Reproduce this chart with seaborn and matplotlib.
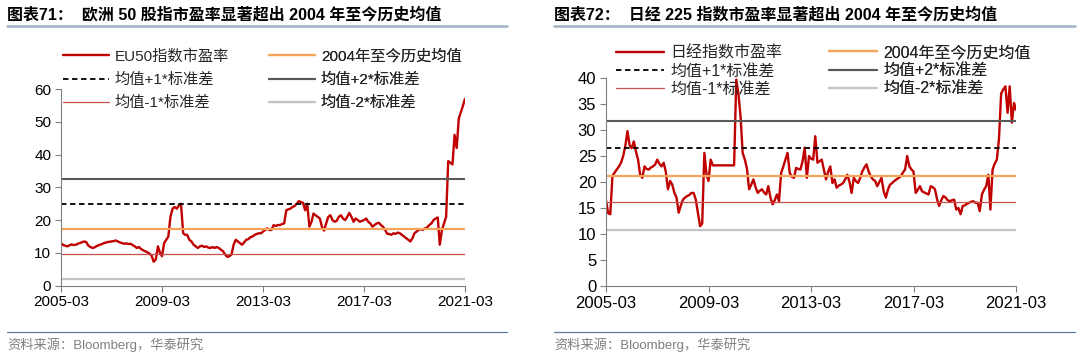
import pandas as pd
import matplotlib
matplotlib.use("Agg")
import matplotlib.pyplot as plt
import matplotlib.dates as mdates
from matplotlib.lines import Line2D
import seaborn as sns

sns.set_style("ticks")
FONTS = ["Liberation Sans", "Noto Sans CJK SC", "DejaVu Sans"]
plt.rcParams["font.family"] = FONTS
plt.rcParams["axes.unicode_minus"] = False

# monthly, 2005-03 .. 2021-03
months = pd.date_range("2005-03-01", "2021-03-01", freq="MS")

eu50_pe = [
    13.0, 12.4, 12.2, 12.0, 12.3, 12.6, 12.4, 12.5, 12.8, 13.0, 13.3, 13.5,  # 2005-03
    13.3, 12.2, 11.8, 11.5, 11.7, 12.1, 12.4, 12.6, 12.9, 13.1, 13.3, 13.4,  # 2006-03
    13.5, 13.6, 13.8, 13.5, 13.2, 13.0, 12.8, 12.9, 12.7, 12.8, 12.4, 12.0,  # 2007-03
    11.5, 11.8, 11.2, 10.8, 10.5, 10.2, 9.8, 9.2, 7.3, 8.0, 12.0, 10.0,      # 2008-03
    9.0, 13.0, 14.0, 15.0, 21.0, 23.5, 24.0, 23.5, 24.5, 25.0, 16.0, 15.5,   # 2009-03
    15.5, 14.0, 13.5, 12.5, 12.0, 11.5, 12.0, 12.2, 11.8, 12.0, 11.6, 11.5,  # 2010-03
    11.8, 11.5, 11.8, 11.5, 11.0, 10.5, 9.5, 8.8, 9.0, 9.5, 12.5, 14.0,      # 2011-03
    13.5, 13.0, 12.5, 13.2, 14.0, 14.2, 14.8, 15.0, 15.5, 15.8, 16.0, 16.0,  # 2012-03
    16.5, 17.0, 17.5, 17.0, 17.0, 18.5, 18.2, 18.5, 18.5, 18.8, 19.0, 23.0,  # 2013-03
    23.3, 23.5, 24.0, 24.3, 25.0, 25.8, 25.5, 25.3, 23.0, 25.0, 18.0, 19.5,  # 2014-03
    22.0, 21.5, 21.0, 20.5, 18.0, 16.8, 19.0, 21.0, 21.5, 20.0, 19.5, 19.8,  # 2015-03
    21.0, 21.5, 20.5, 20.0, 21.0, 22.2, 21.0, 19.5, 20.5, 20.0, 19.5, 19.8,  # 2016-03
    20.0, 20.5, 19.5, 19.0, 18.0, 18.5, 19.0, 19.2, 18.5, 18.0, 17.0, 15.8,  # 2017-03
    15.8, 15.5, 16.0, 15.8, 16.2, 16.0, 15.5, 15.0, 14.5, 14.0, 13.5, 14.5,  # 2018-03
    16.0, 16.5, 17.0, 17.3, 17.0, 17.5, 17.8, 18.5, 19.0, 20.0, 20.5, 20.8,  # 2019-03
    12.5, 17.0, 19.0, 21.0, 38.0, 37.5, 37.0, 46.0, 42.0, 51.0, 53.0, 55.0,  # 2020-03
    57.0,                                                                    # 2021-03
]

nikkei_pe = [
    16.5, 14.0, 13.8, 21.2, 21.8, 22.4, 23.0, 23.7, 25.0, 26.9, 29.8, 27.0,  # 2005-03
    26.5, 27.8, 25.9, 24.3, 21.4, 20.8, 23.0, 22.5, 22.4, 22.8, 23.0, 23.4,  # 2006-03
    24.3, 23.5, 23.0, 23.7, 22.0, 18.6, 20.2, 19.5, 17.9, 17.0, 14.1, 15.5,  # 2007-03
    16.6, 17.0, 17.3, 17.5, 17.9, 17.9, 16.6, 14.1, 11.5, 12.0, 25.6, 21.4,  # 2008-03
    20.2, 24.3, 23.2, 23.2, 23.2, 23.2, 23.2, 23.2, 23.2, 23.2, 23.2, 23.2,  # 2009-03
    23.2, 39.7, 37.0, 32.6, 25.6, 24.3, 22.5, 18.6, 19.5, 20.5, 19.0, 17.9,  # 2010-03
    18.3, 18.6, 18.0, 17.6, 19.2, 17.0, 15.7, 16.5, 17.6, 16.3, 21.8, 23.0,  # 2011-03
    24.3, 25.6, 21.8, 21.0, 20.8, 22.7, 22.5, 22.4, 24.0, 26.6, 20.8, 25.0,  # 2012-03
    24.5, 24.3, 28.8, 23.7, 24.0, 24.3, 22.4, 20.5, 22.0, 23.0, 19.8, 20.5,  # 2013-03
    18.9, 19.3, 19.5, 19.8, 20.5, 21.4, 20.0, 17.9, 20.8, 20.2, 19.8, 20.8,  # 2014-03
    22.0, 22.8, 23.4, 22.0, 21.1, 20.5, 20.2, 19.2, 20.0, 20.8, 18.2, 17.0,  # 2015-03
    18.5, 19.5, 19.8, 20.2, 20.5, 20.8, 21.1, 21.8, 22.4, 25.0, 23.0, 22.4,  # 2016-03
    22.0, 17.9, 18.5, 19.2, 18.2, 18.0, 17.8, 17.6, 19.2, 19.0, 18.6, 16.6,  # 2017-03
    15.4, 16.5, 17.3, 17.0, 16.5, 16.3, 16.5, 16.6, 14.7, 15.0, 13.8, 15.4,  # 2018-03
    15.5, 15.8, 16.0, 16.2, 16.3, 16.0, 16.0, 14.4, 17.6, 18.5, 19.2, 21.4,  # 2019-03
    14.7, 22.4, 23.5, 24.3, 28.2, 37.0, 37.8, 38.4, 33.3, 38.4, 31.4, 35.2,  # 2020-03
    33.9,                                                                    # 2021-03
]

# mean, +1sd, +2sd, -1sd, -2sd
eu50_levels = [17.3, 24.8, 32.5, 9.7, 2.0]
nikkei_levels = [21.2, 26.5, 31.7, 16.1, 10.8]

band_labels = ["2004年至今历史均值", "均值+1*标准差", "均值+2*标准差",
               "均值-1*标准差", "均值-2*标准差"]
band_styles = [
    dict(color="#F5A45A", lw=1.6, ls="-"),
    dict(color="black", lw=1.3, ls=(0, (3, 2))),
    dict(color="#595959", lw=1.5, ls="-"),
    dict(color="#C8504D", lw=0.9, ls="-"),
    dict(color="#C4C4C4", lw=1.6, ls="-"),
]
xtick_dates = pd.to_datetime(["2005-03-01", "2009-03-01", "2013-03-01",
                              "2017-03-01", "2021-03-01"])

panels = [
    dict(title="图表71：  欧洲 50 股指市盈率显著超出 2004 年至今历史均值",
         name="EU50指数市盈率", pe=eu50_pe, levels=eu50_levels,
         rect=[61/1080, 1-285.7/358, 404/1080, 196.7/358], ylim=60, ystep=10,
         tick_fs=11, leg_fs=11, leg_pos=[(63, 49), (269, 49)], leg_sp=0.6,
         tx=7, line_x=(7, 507)),
    dict(title="图表72：  日经 225 指数市盈率显著超出 2004 年至今历史均值",
         name="日经指数市盈率", pe=nikkei_pe, levels=nikkei_levels,
         rect=[606/1080, 1-286/358, 410/1080, 208/358], ylim=40, ystep=5,
         tick_fs=12, leg_fs=11.5, leg_pos=[(616, 45), (829, 45)], leg_sp=0.2,
         tx=554, line_x=(554, 1075)),
]

fig = plt.figure(figsize=(10.8, 3.58), dpi=100)

for p in panels:
    ax = fig.add_axes(p["rect"])
    df = pd.DataFrame({"date": months, "pe": p["pe"]})
    sns.lineplot(data=df, x="date", y="pe", ax=ax, color="#C00000", lw=1.7)
    for lvl, st in zip(p["levels"], band_styles):
        ax.axhline(lvl, **st)

    ax.set_xlim(months[0], months[-1])
    ax.set_ylim(0, p["ylim"])
    ax.set_yticks(range(0, p["ylim"] + 1, p["ystep"]))
    ax.set_xticks(xtick_dates)
    ax.xaxis.set_major_formatter(mdates.DateFormatter("%Y-%m"))
    ax.set_xlabel("")
    ax.set_ylabel("")
    for s in ["top", "right"]:
        ax.spines[s].set_visible(False)
    for s in ["left", "bottom"]:
        ax.spines[s].set_color("#808080")
        ax.spines[s].set_linewidth(0.8)
    ax.tick_params(direction="out", length=4, width=0.8, color="#808080",
                   labelsize=p["tick_fs"], labelcolor="black", pad=3)

    # legend, two columns placed by hand
    h_pe = Line2D([], [], color="#C00000", lw=1.7)
    h_b = [Line2D([], [], **st) for st in band_styles]
    cols = [([h_pe, h_b[1], h_b[3]], [p["name"], band_labels[1], band_labels[3]]),
            ([h_b[0], h_b[2], h_b[4]], [band_labels[0], band_labels[2], band_labels[4]])]
    for (hs, ls), (lx, ly) in zip(cols, p["leg_pos"]):
        leg = ax.legend(hs, ls, loc="upper left",
                        bbox_to_anchor=(lx/1080, 1-ly/358),
                        bbox_transform=fig.transFigure, frameon=False,
                        fontsize=p["leg_fs"], handlelength=3.0, handletextpad=0.4,
                        labelspacing=p["leg_sp"], borderpad=0, borderaxespad=0)
        for t in leg.get_texts():
            t.set_color("#262626")
        ax.add_artist(leg)

    # header, rules and source
    fig.text(p["tx"]/1080, 1-15/358, p["title"], fontsize=11.5, fontweight="bold",
             va="center", ha="left", color="black")
    x0, x1 = p["line_x"]
    fig.add_artist(Line2D([x0/1080, x1/1080], [1-26/358]*2,
                          transform=fig.transFigure, color="#9FB2C6", lw=1.8))
    fig.add_artist(Line2D([x0/1080, x1/1080], [1-332/358]*2,
                          transform=fig.transFigure, color="#5B7DA3", lw=0.9))
    fig.text(p["tx"]/1080, 1-345/358, "资料来源：Bloomberg，华泰研究",
             fontsize=9.5, va="center", ha="left", color="#7F7F7F")

fig.savefig("out.png", dpi=100)
